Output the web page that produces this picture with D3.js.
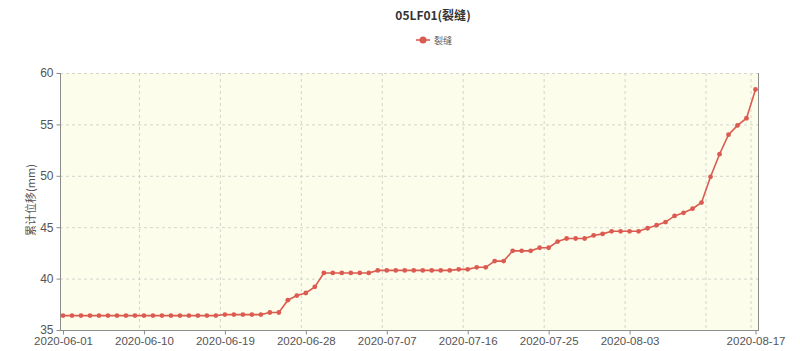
<!DOCTYPE html>
<html>
<head>
<meta charset="utf-8">
<script src="https://cdn.jsdelivr.net/npm/d3@7"></script>
<style>
  body { margin: 0; background: #fff; }
  text { font-family: "Noto Sans CJK SC", "Liberation Sans", sans-serif; }
</style>
</head>
<body>
<div id="chart"></div>
<script>
// categories: one reading per day
const firstDay = "2020-06-01", lastDay = "2020-08-17";
const fmt = d3.timeFormat("%Y-%m-%d");
const dates = d3.timeDay.range(d3.timeParse("%Y-%m-%d")(firstDay),
                               d3.timeDay.offset(d3.timeParse("%Y-%m-%d")(lastDay), 1)).map(fmt);

// accumulated displacement (mm)
const values = [
  36.4, 36.4, 36.4, 36.4, 36.4, 36.4, 36.4, 36.4, 36.4, 36.4,
  36.4, 36.4, 36.4, 36.4, 36.4, 36.4, 36.4, 36.4, 36.5, 36.5,
  36.5, 36.5, 36.5, 36.7, 36.7, 37.9, 38.35, 38.6, 39.2, 40.55,
  40.55, 40.55, 40.55, 40.55, 40.55, 40.8, 40.8, 40.8, 40.8, 40.8,
  40.8, 40.8, 40.8, 40.8, 40.9, 40.9, 41.1, 41.1, 41.7, 41.7,
  42.7, 42.7, 42.7, 43.0, 43.0, 43.6, 43.9, 43.9, 43.9, 44.2,
  44.35, 44.6, 44.6, 44.6, 44.6, 44.9, 45.2, 45.5, 46.1, 46.4,
  46.8, 47.4, 49.9, 52.1, 54.0, 54.9, 55.6, 58.4
];

const xLabels = ["2020-06-01", "2020-06-10", "2020-06-19", "2020-06-28", "2020-07-07",
                 "2020-07-16", "2020-07-25", "2020-08-03", "2020-08-17"];
const xGrid = ["2020-06-10", "2020-06-19", "2020-06-28", "2020-07-07", "2020-07-16",
               "2020-07-25", "2020-08-03", "2020-08-12", "2020-08-17"];
const yTicks = [35, 40, 45, 50, 55, 60];

const seriesName = "裂缝";
const title = "05LF01(裂缝)";
const yTitle = "累计位移(mm)";

const width = 800, height = 351;
const plot = {left: 60, right: 758, top: 73, bottom: 330};
const red = "#dc5b51", axisColor = "#8c8c8c", textColor = "#555";

const svg = d3.select("#chart").append("svg")
  .attr("width", width)
  .attr("height", height);

const x = d3.scalePoint()
  .domain(dates)
  .range([63, 755.5]);

const y = d3.scaleLinear()
  .domain([35, 60])
  .range([plot.bottom, plot.top]);

// plot background
svg.append("rect")
  .attr("x", plot.left).attr("y", plot.top)
  .attr("width", plot.right - plot.left)
  .attr("height", plot.bottom - plot.top)
  .attr("fill", "#fdfdec");

// dashed grid (vertical lines sit a bit left of the ticks, as in the picture)
svg.append("g").selectAll("line")
  .data(xGrid)
  .join("line")
  .attr("x1", d => x(d) - 4.5).attr("x2", d => x(d) - 4.5)
  .attr("y1", plot.top).attr("y2", plot.bottom)
  .attr("stroke", "#d4d4cc").attr("stroke-dasharray", "3,3");

svg.append("g").selectAll("line")
  .data(yTicks.filter(d => d > 35))
  .join("line")
  .attr("x1", plot.left).attr("x2", plot.right)
  .attr("y1", d => y(d) + 0.5).attr("y2", d => y(d) + 0.5)
  .attr("stroke", "#d4d4cc").attr("stroke-dasharray", "3,3");

// right border
svg.append("line")
  .attr("x1", plot.right + 0.5).attr("x2", plot.right + 0.5)
  .attr("y1", plot.top).attr("y2", plot.bottom)
  .attr("stroke", axisColor);

// Y axis
const yAxis = svg.append("g")
  .attr("transform", `translate(${plot.left + 0.5},0)`)
  .call(d3.axisLeft(y).tickValues(yTicks).tickSize(4).tickSizeOuter(0).tickPadding(3));
yAxis.select(".domain").attr("stroke", axisColor).attr("d", `M0,${plot.top}V${plot.bottom}`);
yAxis.selectAll(".tick line").attr("stroke", axisColor);
yAxis.selectAll(".tick text")
  .attr("fill", textColor)
  .style("font-size", "12px")
  .style("font-family", "'Liberation Sans', sans-serif");

// X axis
const xAxis = svg.append("g")
  .attr("transform", `translate(0,${plot.bottom + 0.5})`)
  .call(d3.axisBottom(x).tickValues(xLabels).tickSize(4).tickSizeOuter(0).tickPadding(2));
xAxis.select(".domain").attr("stroke", axisColor).attr("d", `M${plot.left},0H${plot.right + 1}`);
xAxis.selectAll(".tick line").attr("stroke", axisColor);
xAxis.selectAll(".tick text")
  .attr("fill", textColor)
  .style("font-size", "11.5px")
  .style("font-family", "'Liberation Sans', sans-serif");

// Y title
svg.append("text")
  .attr("transform", `translate(35,200) rotate(-90)`)
  .attr("text-anchor", "middle")
  .attr("fill", textColor)
  .style("font-size", "11px")
  .text(yTitle);

// line + markers
svg.append("path")
  .datum(values)
  .attr("fill", "none")
  .attr("stroke", red)
  .attr("stroke-width", 1.6)
  .attr("d", d3.line()
    .x((d, i) => x(dates[i]))
    .y(d => y(d)));

svg.append("g").selectAll("circle")
  .data(values)
  .join("circle")
  .attr("cx", (d, i) => x(dates[i]))
  .attr("cy", d => y(d))
  .attr("r", 2.4)
  .attr("fill", red);

// title
svg.append("text")
  .attr("x", 433).attr("y", 20)
  .attr("text-anchor", "middle")
  .attr("fill", "#333")
  .style("font-size", "12px")
  .style("font-weight", "bold")
  .text(title);

// legend
const legend = svg.append("g").attr("transform", "translate(416,40)");
legend.append("line")
  .attr("x1", 0).attr("x2", 14).attr("y1", 0).attr("y2", 0)
  .attr("stroke", red).attr("stroke-width", 1.6);
legend.append("circle")
  .attr("cx", 7).attr("cy", 0).attr("r", 3.5).attr("fill", red);
legend.append("text")
  .attr("x", 18).attr("y", 4)
  .attr("fill", textColor)
  .style("font-size", "9px")
  .text(seriesName);
</script>
</body>
</html>
